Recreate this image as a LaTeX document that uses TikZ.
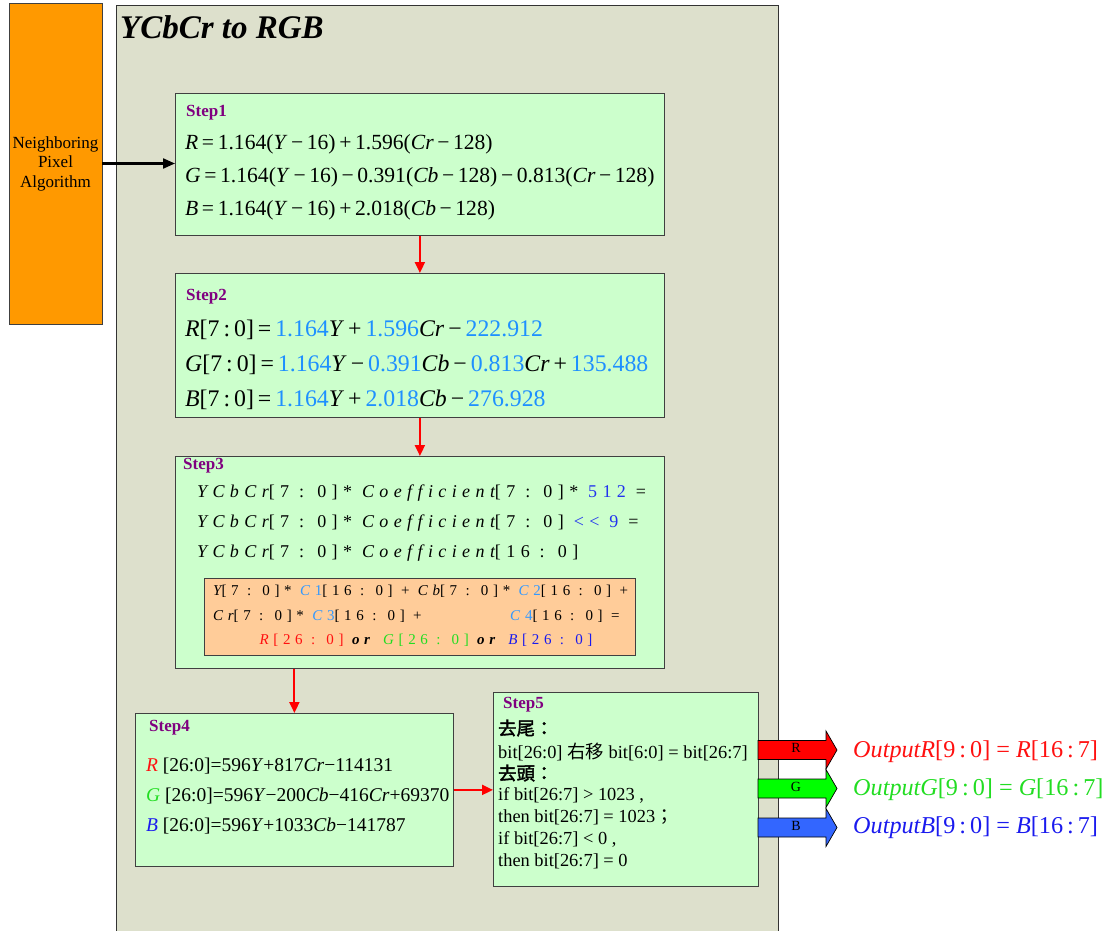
\documentclass[tikz,border=0pt]{standalone}
\usepackage{fontspec}
\usepackage{xcolor}
\usetikzlibrary{arrows.meta}
\setmainfont{Liberation Serif}
\newfontfamily\cjk{Noto Sans CJK TC}
\newfontfamily\cjkb[FakeBold=2]{Noto Sans CJK TC}
\newfontfamily\spcA[LetterSpace=30]{Liberation Serif}
\newfontfamily\spcB[LetterSpace=31]{Liberation Serif}

\definecolor{panelbg}{HTML}{DDE0CC}
\definecolor{stepgreen}{HTML}{CCFFCC}
\definecolor{srcorange}{HTML}{FF9900}
\definecolor{peach}{HTML}{FFCC99}
\definecolor{steppurple}{HTML}{800080}
\definecolor{numblue}{HTML}{1E90FF}
\definecolor{darkblue}{HTML}{2233EE}
\definecolor{cblue}{HTML}{3399FF}
\definecolor{rgbred}{HTML}{FF1010}
\definecolor{rgbgreen}{HTML}{22DD22}
\definecolor{rgbblue}{HTML}{1A1AEE}
\definecolor{arrred}{HTML}{FF0000}
\definecolor{arrgreen}{HTML}{00FF00}
\definecolor{arrblue}{HTML}{3366FF}

\newcommand{\fs}[1]{\fontsize{#1}{#1}\selectfont}
\newcommand{\iv}[1]{\textit{#1}}
\newcommand{\nb}[1]{\textcolor{numblue}{#1}}
\newcommand{\cc}[1]{\textcolor{cblue}{\textit{C}#1}}

\tikzset{
  panel/.style={draw=black!80, line width=0.8pt, fill=panelbg, anchor=north west, inner sep=0pt},
  srcbox/.style={draw=black!75, line width=0.8pt, fill=srcorange, align=center, font=\fontsize{17}{19.5}\selectfont},
  stepbox/.style={draw=black!75, line width=0.8pt, fill=stepgreen, anchor=north west, inner sep=0pt},
  steplabel/.style={anchor=west, inner sep=0pt, text=steppurple, font=\fs{17}\bfseries},
  eqline/.style={anchor=west, inner sep=0pt, font=\fs{#1}},
  spline/.style={anchor=west, inner sep=0pt, font=\spcA\fs{18}},
  inline/.style={anchor=west, inner sep=0pt, font=\spcB\fs{15}},
  redarrow/.style={draw=red, line width=2pt, -{Triangle[length=11pt,width=10pt]}},
}

\begin{document}
\begin{tikzpicture}[x=1pt,y=-1pt]
\useasboundingbox (0,0) rectangle (1116,931);

% main panel
\node[panel, minimum width=662pt, minimum height=945pt] (panel) at (116,5) {};
\node[anchor=west, inner sep=0pt, font=\fs{33}\bfseries\itshape] (title) at (120,27) {YCbCr to RGB};

% input block
\node[srcbox, minimum width=93pt, minimum height=321pt] (nbr) at (55.5,163.5) {Neighboring\\Pixel\\Algorithm};

% Step1
\node[stepbox, minimum width=489pt, minimum height=142pt] (s1) at (175,93) {};
\node[steplabel] (s1t) at (186,113) {Step1};
\node[eqline=21.6] (s1r) at (185,144) {\iv{R}\,=\,1.164(\iv{Y}\,−\,16)\,+\,1.596(\iv{Cr}\,−\,128)};
\node[eqline=21.6] (s1g) at (185,177) {\iv{G}\,=\,1.164(\iv{Y}\,−\,16)\,−\,0.391(\iv{Cb}\,−\,128)\,−\,0.813(\iv{Cr}\,−\,128)};
\node[eqline=21.6] (s1b) at (185,210) {\iv{B}\,=\,1.164(\iv{Y}\,−\,16)\,+\,2.018(\iv{Cb}\,−\,128)};

% Step2
\node[stepbox, minimum width=489pt, minimum height=144pt] (s2) at (175,273) {};
\node[steplabel] (s2t) at (186,297) {Step2};
\node[eqline=23.8] (s2r) at (185,330) {\iv{R}[7\,:\,0]\,=\,\nb{1.164}\iv{Y}\,+\,\nb{1.596}\iv{Cr}\,−\,\nb{222.912}};
\node[eqline=23.8] (s2g) at (185,365) {\iv{G}[7\,:\,0]\,=\,\nb{1.164}\iv{Y}\,−\,\nb{0.391}\iv{Cb}\,−\,\nb{0.813}\iv{Cr}\,+\,\nb{135.488}};
\node[eqline=23.8] (s2b) at (185,400) {\iv{B}[7\,:\,0]\,=\,\nb{1.164}\iv{Y}\,+\,\nb{2.018}\iv{Cb}\,−\,\nb{276.928}};

% Step3
\node[stepbox, minimum width=489pt, minimum height=212pt] (s3) at (175,456) {};
\node[steplabel] (s3t) at (183,466) {Step3};
\node[spline] (s3a) at (197,493) {{\itshape YCbCr}[7 : 0]* {\itshape Coefficient}[7 : 0]* \textcolor{darkblue}{512} =};
\node[spline] (s3b) at (197,523) {{\itshape YCbCr}[7 : 0]* {\itshape Coefficient}[7 : 0] \textcolor{darkblue}{<< 9} =};
\node[spline] (s3c) at (197,553) {{\itshape YCbCr}[7 : 0]* {\itshape Coefficient}[16 : 0]};
\node[stepbox, fill=peach, minimum width=431pt, minimum height=77pt] (mul) at (204,578) {};
\node[inline] (mula) at (213,591) {{\itshape Y}[7 : 0]* \cc{1}[16 : 0] + {\itshape Cb}[7 : 0]* \cc{2}[16 : 0] +};
\node[inline] (mulb) at (213,616) {{\itshape Cr}[7 : 0]* \cc{3}[16 : 0] +};
\node[inline] (mulc) at (510,616) {\cc{4}[16 : 0] =};
\node[inline, anchor=center] (muld) at (426,640) {\textcolor{rgbred}{\textit{R}[26 : 0]} \textbf{\textit{or}} \textcolor{rgbgreen}{\textit{G}[26 : 0]} \textbf{\textit{or}} \textcolor{rgbblue}{\textit{B}[26 : 0]}};

% Step4
\node[stepbox, minimum width=318pt, minimum height=153pt] (s4) at (135,713) {};
\node[steplabel] (s4t) at (149,728) {Step4};
\node[eqline=19.5] (s4r) at (146,766) {\textcolor{rgbred}{\iv{R}} [26:0]=596\iv{Y}+817\iv{Cr}−114131};
\node[eqline=19.5] (s4g) at (146,796) {\textcolor{rgbgreen}{\iv{G}} [26:0]=596\iv{Y}−200\iv{Cb}−416\iv{Cr}+69370};
\node[eqline=19.5] (s4b) at (146,826) {\textcolor{rgbblue}{\iv{B}} [26:0]=596\iv{Y}+1033\iv{Cb}−141787};

% Step5
\node[stepbox, minimum width=265pt, minimum height=194pt] (s5) at (493,692) {};
\node[steplabel] (s5t) at (503,705) {Step5};
\node[eqline=18.4] (s5a) at (498,728) {\cjkb 去尾：};
\node[eqline=18.4] (s5b) at (498,752) {bit[26:0] {\cjk 右移} bit[6:0] = bit[26:7]};
\node[eqline=18.4] (s5c) at (498,773) {\cjkb 去頭：};
\node[eqline=18.4] (s5d) at (498,795) {if bit[26:7] > 1023 ,};
\node[eqline=18.4] (s5e) at (498,817) {then bit[26:7] = 1023{\cjk ；}};
\node[eqline=18.4] (s5f) at (498,839) {if bit[26:7] < 0 ,};
\node[eqline=18.4] (s5g) at (498,861) {then bit[26:7] = 0};

% connectors
\draw[line width=2.2pt, -{Triangle[length=12pt,width=10pt]}] (nbr.east) -- (nbr.east -| s1.west);
\draw[redarrow] (s1.south) -- (s2.north);
\draw[redarrow] (s2.south) -- (s3.north);
\draw[redarrow] (s3.south -| s4.north) -- (s4.north);
\draw[redarrow] (s4.east) -- (s4.east -| s5.west);

% outputs
\foreach \c/\yy/\t in {arrred/750/R, arrgreen/788.5/G, arrblue/827.5/B} {
  \draw[fill=\c, line width=0.7pt] (758,\yy-9.5) -- (826,\yy-9.5) -- (826,\yy-19) -- (837,\yy)
    -- (826,\yy+19) -- (826,\yy+9.5) -- (758,\yy+9.5) -- cycle;
  \node[font=\fs{14}, inner sep=0pt] (lab\t) at (796,\yy-2) {\t};
}
\node[eqline=24.2, text=rgbred] (outr) at (853,752) {\iv{OutputR}[9\,:\,0] = \iv{R}[16\,:\,7]};
\node[eqline=24.2, text=rgbgreen] (outg) at (853,790) {\iv{OutputG}[9\,:\,0] = \iv{G}[16\,:\,7]};
\node[eqline=24.2, text=rgbblue] (outb) at (853,828) {\iv{OutputB}[9\,:\,0] = \iv{B}[16\,:\,7]};
\end{tikzpicture}
\end{document}
